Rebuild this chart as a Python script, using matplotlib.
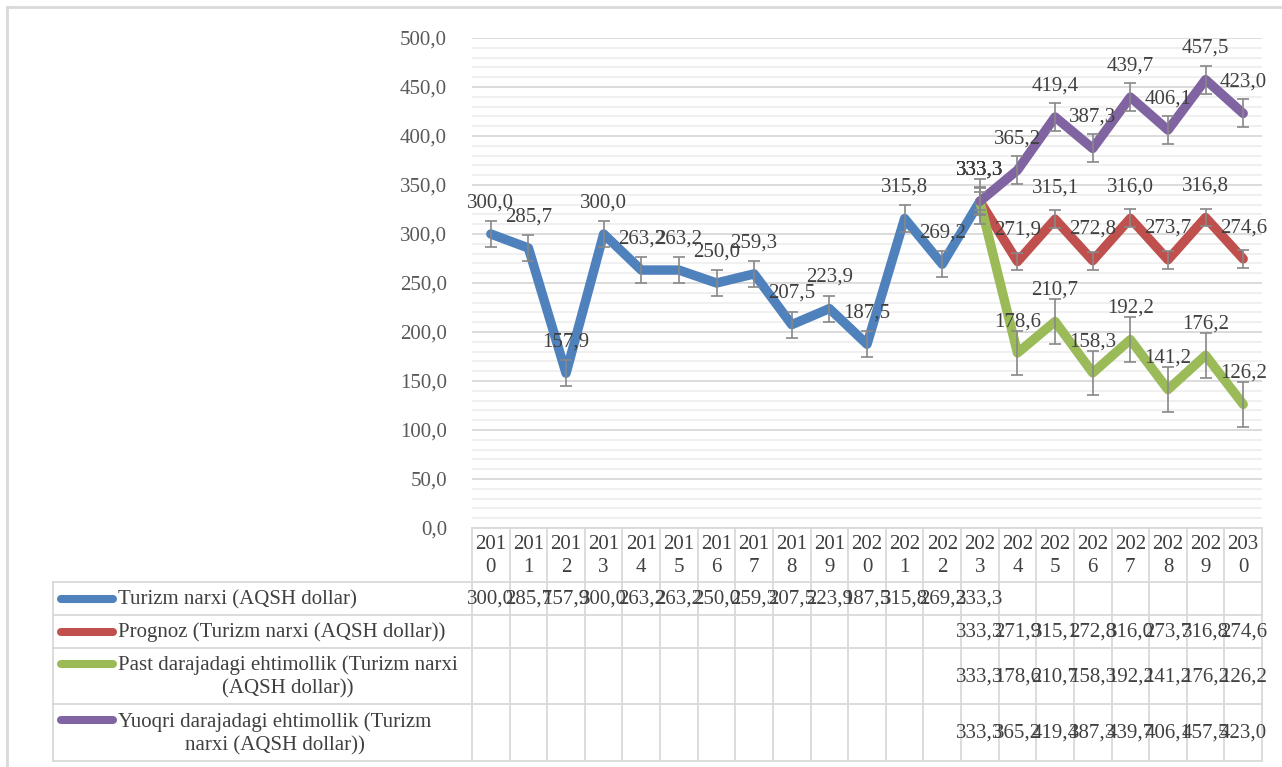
import numpy as np
import matplotlib
matplotlib.use("Agg")
import matplotlib.pyplot as plt
from matplotlib.lines import Line2D

plt.rcParams['font.family'] = ['Liberation Serif', 'DejaVu Serif']

# ---------------- data ----------------
years = [str(y) for y in range(2010, 2031)]
nan = np.nan
actual = [300.0, 285.7, 157.9, 300.0, 263.2, 263.2, 250.0, 259.3, 207.5, 223.9,
          187.5, 315.8, 269.2, 333.3, nan, nan, nan, nan, nan, nan, nan]
forecast = [nan] * 13 + [333.3, 271.9, 315.1, 272.8, 316.0, 273.7, 316.8, 274.6]
low = [nan] * 13 + [333.3, 178.6, 210.7, 158.3, 192.2, 141.2, 176.2, 126.2]
high = [nan] * 13 + [333.3, 365.2, 419.4, 387.3, 439.7, 406.1, 457.5, 423.0]

series_names = ["Turizm narxi (AQSH dollar)",
                "Prognoz (Turizm narxi (AQSH dollar))",
                "Past darajadagi ehtimollik (Turizm narxi\n(AQSH dollar))",
                "Yuoqri darajadagi ehtimollik (Turizm\nnarxi (AQSH dollar))"]
series_values = [actual, forecast, low, high]
error_sizes = [13.3, 9.1, 22.7, 14.3]
colors = ["#4F81BD", "#C0504D", "#9BBB59", "#8064A2"]

# ---------------- layout ----------------
W, H = 1282, 767
fig = plt.figure(figsize=(W / 100, H / 100), dpi=100)
FS = 15
LABEL_C = "#404040"
TICK_C = "#595959"
GRID_MAJ = "#d9d9d9"
GRID_MIN = "#efefef"

plot_l, plot_r, plot_t, plot_b = 472, 1262, 38, 528
ax = fig.add_axes([plot_l / W, 1 - plot_b / H, (plot_r - plot_l) / W, (plot_b - plot_t) / H])
n = len(years)
x = np.arange(n)
ax.set_xlim(-0.5, n - 0.5)
ax.set_ylim(0, 500)
for s in ax.spines.values():
    s.set_visible(False)
ax.set_yticks(np.arange(0, 501, 50))
ax.set_yticks(np.arange(0, 501, 10), minor=True)
ax.set_yticklabels([f"{v:.1f}".replace(".", ",") for v in np.arange(0, 501, 50)],
                   fontsize=FS, color=TICK_C)
ax.tick_params(axis='y', which='both', length=0, pad=18)
ax.set_xticks([])
ax.grid(axis='y', which='minor', color=GRID_MIN, lw=1.3, zorder=0)
ax.grid(axis='y', which='major', color=GRID_MAJ, lw=1.3, zorder=0.5)
ax.set_axisbelow(True)

for vals, col, err in zip(series_values, colors, error_sizes):
    v = np.array(vals, dtype=float)
    ax.plot(x, v, color=col, lw=6.8, solid_joinstyle='round', solid_capstyle='round', zorder=3)
    m = ~np.isnan(v)
    ax.errorbar(x[m], v[m], yerr=err, fmt='none', ecolor="#888888", elinewidth=1.2,
                capsize=4, capthick=1.2, zorder=4)

for vals in series_values:
    for xi, vi in zip(x, vals):
        if not np.isnan(vi):
            ax.annotate(f"{vi:.1f}".replace(".", ","), (xi, vi), xytext=(0, 22.5),
                        textcoords='offset points', ha='center', va='center',
                        fontsize=FS, color=LABEL_C, zorder=6)

# ---------------- data table ----------------
tab_l, tab_t, tab_b = 53, 528, 761
col_w = (plot_r - plot_l) / n
leg_w = (plot_l - tab_l) / col_w
tax = fig.add_axes([tab_l / W, 1 - tab_b / H, (plot_r - tab_l) / W, (tab_b - tab_t) / H])
tax.set_xlim(-0.5 - leg_w, n - 0.5)
tax.set_ylim(tab_b - tab_t, 0)
tax.axis('off')
row_edges = [0, 54, 87, 120, 176, 233]
lc = GRID_MAJ
lw = 1.3
for i in range(n + 1):
    tax.plot([i - 0.5, i - 0.5], [row_edges[0], row_edges[-1]], color=lc, lw=lw, clip_on=False)
tax.plot([-0.5 - leg_w] * 2, [row_edges[1], row_edges[-1]], color=lc, lw=lw, clip_on=False)
tax.plot([-0.5, n - 0.5], [row_edges[0]] * 2, color=lc, lw=lw, clip_on=False)
for r in row_edges[1:]:
    tax.plot([-0.5 - leg_w, n - 0.5], [r, r], color=lc, lw=lw, clip_on=False)

for i, y in enumerate(years):
    tax.text(i, (row_edges[0] + row_edges[1]) / 2 + 1, y[:3] + "\n" + y[3:], ha='center', va='center',
             fontsize=FS, color=LABEL_C, linespacing=1.25)

key_x0 = -0.5 - leg_w + 8 / col_w
key_x1 = -0.5 - leg_w + 60 / col_w
text_x = -0.5 - leg_w + 65 / col_w
for r, (name, vals, col) in enumerate(zip(series_names, series_values, colors)):
    top, bot = row_edges[r + 1], row_edges[r + 2]
    two = "\n" in name
    key_y = top + 16 if two else (top + bot) / 2
    tax.plot([key_x0, key_x1], [key_y, key_y], color=col, lw=5.8, solid_capstyle='round',
             clip_on=False)
    tax.text(text_x, (top + bot) / 2 + 1, name, ha='left', va='center', multialignment='center',
             fontsize=FS, color=LABEL_C, linespacing=1.3)
    for i, v in enumerate(vals):
        if not np.isnan(v):
            tax.text(i, (top + bot) / 2 + 1, f"{v:.1f}".replace(".", ","), ha='center', va='center',
                     fontsize=FS, color=LABEL_C)

fig.add_artist(Line2D([7 / W, 7 / W], [0, 1 - 7 / H], color=GRID_MAJ, lw=2))
fig.add_artist(Line2D([7 / W, 1], [1 - 7 / H, 1 - 7 / H], color=GRID_MAJ, lw=2))

fig.savefig("out.png", dpi=100)
